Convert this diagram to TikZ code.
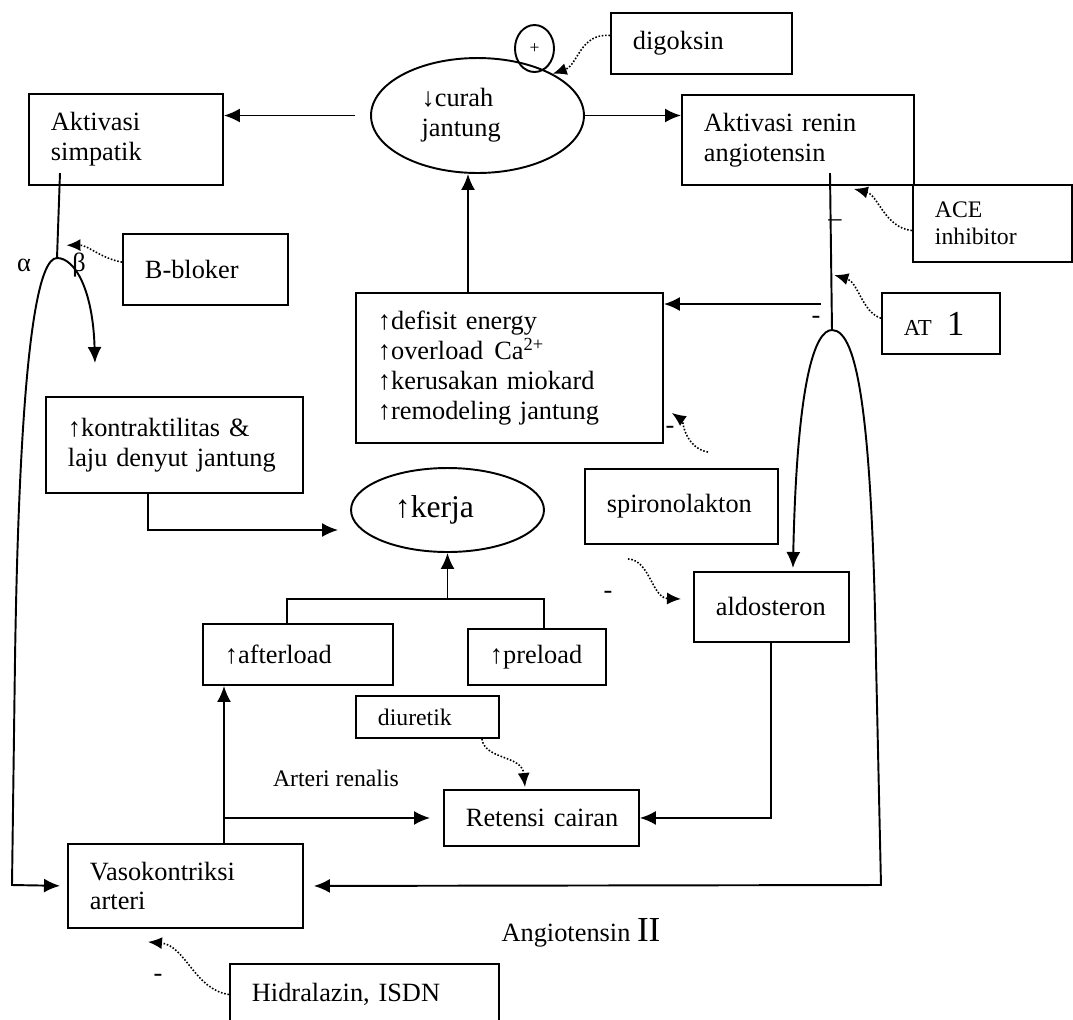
\documentclass[tikz,border=0pt]{standalone}
\usepackage{fontspec}
\setmainfont{Liberation Serif}
\usepackage{tikz}
\usetikzlibrary{arrows.meta,shapes,positioning,calc}
\hyphenpenalty=10000
\tikzstyle{arrow} = [line width=1.1pt,->,>={Latex[length=3.2mm,width=2.8mm]}]
\tikzstyle{plain} = [line width=1.1pt]
\tikzstyle{dotarrow} = [line width=0.9pt,densely dotted,->,>={Latex[length=2.8mm,width=2.4mm]}]
\tikzstyle{flowbox} = [rectangle, draw, line width=1.1pt, anchor=north west, inner xsep=0.44cm, inner ysep=0pt, align=left, font=\fontsize{15}{17}\selectfont]
\tikzstyle{ovalbox} = [ellipse, draw, line width=1.1pt, inner sep=0pt, align=left, font=\fontsize{15}{17}\selectfont]
\tikzstyle{smallfont} = [font=\fontsize{13.5}{15.5}\selectfont]
\tikzstyle{sign} = [inner sep=0pt, font=\fontsize{15}{17}\selectfont]

\begin{document}
\begin{tikzpicture}[x=0.02cm,y=-0.02cm]
\useasboundingbox (0,0) rectangle (1073,1019);
\clip (0,0) rectangle (1073,1019);

% Top row
\node[ovalbox, minimum width=4.26cm, minimum height=2.3cm] (curah) at (477.5,115.5) {↓curah\hspace*{0.8cm}\\jantung};
\node[ovalbox, minimum width=0.78cm, minimum height=0.94cm, font=\fontsize{10}{12}\selectfont] (plus) at (534.5,48.5) {+};
\node[flowbox, text width=2.74cm, minimum height=1.22cm] (digoksin) at (610,12) {digoksin};
\node[flowbox, text width=3cm, minimum height=1.82cm] (simpatik) at (28,93) {Aktivasi\\simpatik};
\node[flowbox, text width=3.76cm, minimum height=1.8cm] (renin) at (681,94) {Aktivasi renin\\angiotensin};
\node[flowbox, smallfont, text width=2.3cm, minimum height=1.54cm] (ace) at (912,184) {ACE\\inhibitor};

% Middle
\node[flowbox, text width=2.42cm, minimum height=1.42cm] (bbloker) at (122,233) {B-bloker};
\node[flowbox, text width=1.48cm, minimum height=1.22cm] (at1) at (881,292) {{\fontsize{13}{15}\selectfont AT}\hspace{0.3cm}{\fontsize{20}{22}\selectfont 1}};
\node[flowbox, text width=5.26cm, minimum height=3cm] (defisit) at (355,292) {↑defisit energy\\↑overload\hspace{0.22cm}Ca\textsuperscript{2+}\\↑kerusakan miokard\\↑remodeling jantung};
\node[flowbox, text width=4.26cm, minimum height=1.92cm] (kontr) at (45,396) {↑kontraktilitas \&\\laju denyut jantung};
\node[ovalbox, minimum width=3.86cm, minimum height=1.68cm, font=\fontsize{18}{20}\selectfont] (kerja) at (447.5,510) {↑kerja\hspace*{0.52cm}};
\node[flowbox, text width=2.98cm, minimum height=1.5cm] (spiro) at (584,468) {spironolakton};
\node[flowbox, text width=2.22cm, minimum height=1.4cm] (aldo) at (693,571) {aldosteron};

% Bottom
\node[flowbox, text width=2.92cm, minimum height=1.22cm] (after) at (202,623) {↑afterload};
\node[flowbox, text width=1.88cm, minimum height=1.12cm] (pre) at (467,628) {↑preload};
\node[flowbox, smallfont, text width=1.98cm, minimum height=0.84cm] (diuretik) at (355,695) {diuretik};
\node[flowbox, text width=3.02cm, minimum height=1.12cm] (retensi) at (443,789) {Retensi~cairan};
\node[flowbox, text width=3.82cm, minimum height=1.68cm] (vaso) at (67,843) {Vasokontriksi\\arteri};
\node[flowbox, text width=4.5cm, minimum height=1.22cm] (hidra) at (229,963) {Hidralazin, ISDN};
\node[smallfont] (arteri) at (336,778) {Arteri renalis};
\node[font=\fontsize{15}{17}\selectfont] (angio) at (581,933) {Angiotensin {\fontsize{20}{22}\selectfont II}};

% Signs
\node[sign] (alfa) at (24,265) {α};
\node[sign] (beta) at (79,265) {β};
\node[sign] (m1) at (835,223) {–};
\node[sign] (m2) at (816,320) {-};
\node[sign] (m3) at (670,430) {-};
\node[sign] (m4) at (608,595) {-};
\node[sign] (m5) at (158,978) {-};

% Branch points
\coordinate (simp) at (60,173);
\coordinate (archL) at (57,258);
\coordinate (btip) at (95,363);
\coordinate (rnn) at (830,173);
\coordinate (archR) at (832,330);
\coordinate (cabangR) at (821,304);
\coordinate (vx) at ($(after.south west)+(22,0)$);

% Arrows
\draw[arrow] ($(curah.west)+(-15,0)$) -- (curah.west -| simpatik.east);
\draw[arrow] (curah.east) -- (curah.east -| renin.west);
\draw[arrow] ($(curah.south |- defisit.north)+(-9.5,0)$) -- ($(curah.south)+(-9.5,0)$);
\draw[plain] (simp) -- (archL);
\draw[arrow, <->, shorten >=0.14cm] (btip) .. controls (93,290) and (75,258) .. (archL) .. controls (40,258) and (20,330) .. (15,660) -- (12,885) -- (vaso.west);
\draw[plain] (rnn) -- (archR);
\draw[arrow, <->, shorten >=0.2cm] ($(aldo.north)+(21.5,-3)$) .. controls (797,380) and (815,330) .. (archR) .. controls (858,330) and (872,420) .. (876,660) -- (881,885) -- (vaso.east);
\draw[arrow] (cabangR) -- (cabangR -| defisit.east);
\draw[arrow] ($(kontr.south west)+(103,0)$) |- ($(kerja.west)+(-12,20)$);
\draw[plain] ($(after.north west)+(85,0)$) -- ++(0,-24) -| ($(pre.north west)+(77,0)$);
\draw[arrow] ($(kerja.south)+(0,47)$) -- (kerja.south);
\draw[arrow] (vx |- vaso.north) -- (vx);
\draw[arrow, shorten >=0.26cm] (vx |- retensi.west) -- (retensi.west);
\draw[arrow] (aldo.south) |- (retensi.east);

% Dotted effects
\draw[dotarrow] (digoksin.175) .. controls (580,33) and (578,65) .. (curah.29);
\draw[dotarrow] (ace.185) .. controls (885,228) and (878,195) .. ($(renin.south east)+(-61,3)$);
\draw[dotarrow] (at1.175) .. controls (862,312) and (858,282) .. ($(rnn)!0.65!(archR)+(3,0)$);
\draw[dotarrow] (bbloker.175) .. controls (100,258) and (88,245) .. ($(simp)!0.85!(archL)+(9,0)$);
\draw[dotarrow] ($(spiro.north)+(26.5,-16)$) .. controls (685,448) and (682,420) .. ($(defisit.east)+(8,45)$);
\draw[dotarrow] ($(spiro.south)+(-53.5,14)$) .. controls (650,560) and (652,598) .. ($(aldo.west)+(-12,-8)$);
\draw[dotarrow] ($(diuretik.south east)+(-18,0)$) .. controls (485,760) and (522,755) .. ($(retensi.north west)+(82,-2)$);
\draw[dotarrow] (hidra.west) .. controls (195,990) and (185,945) .. ($(vaso.south west)+(81,13)$);
\end{tikzpicture}
\end{document}
